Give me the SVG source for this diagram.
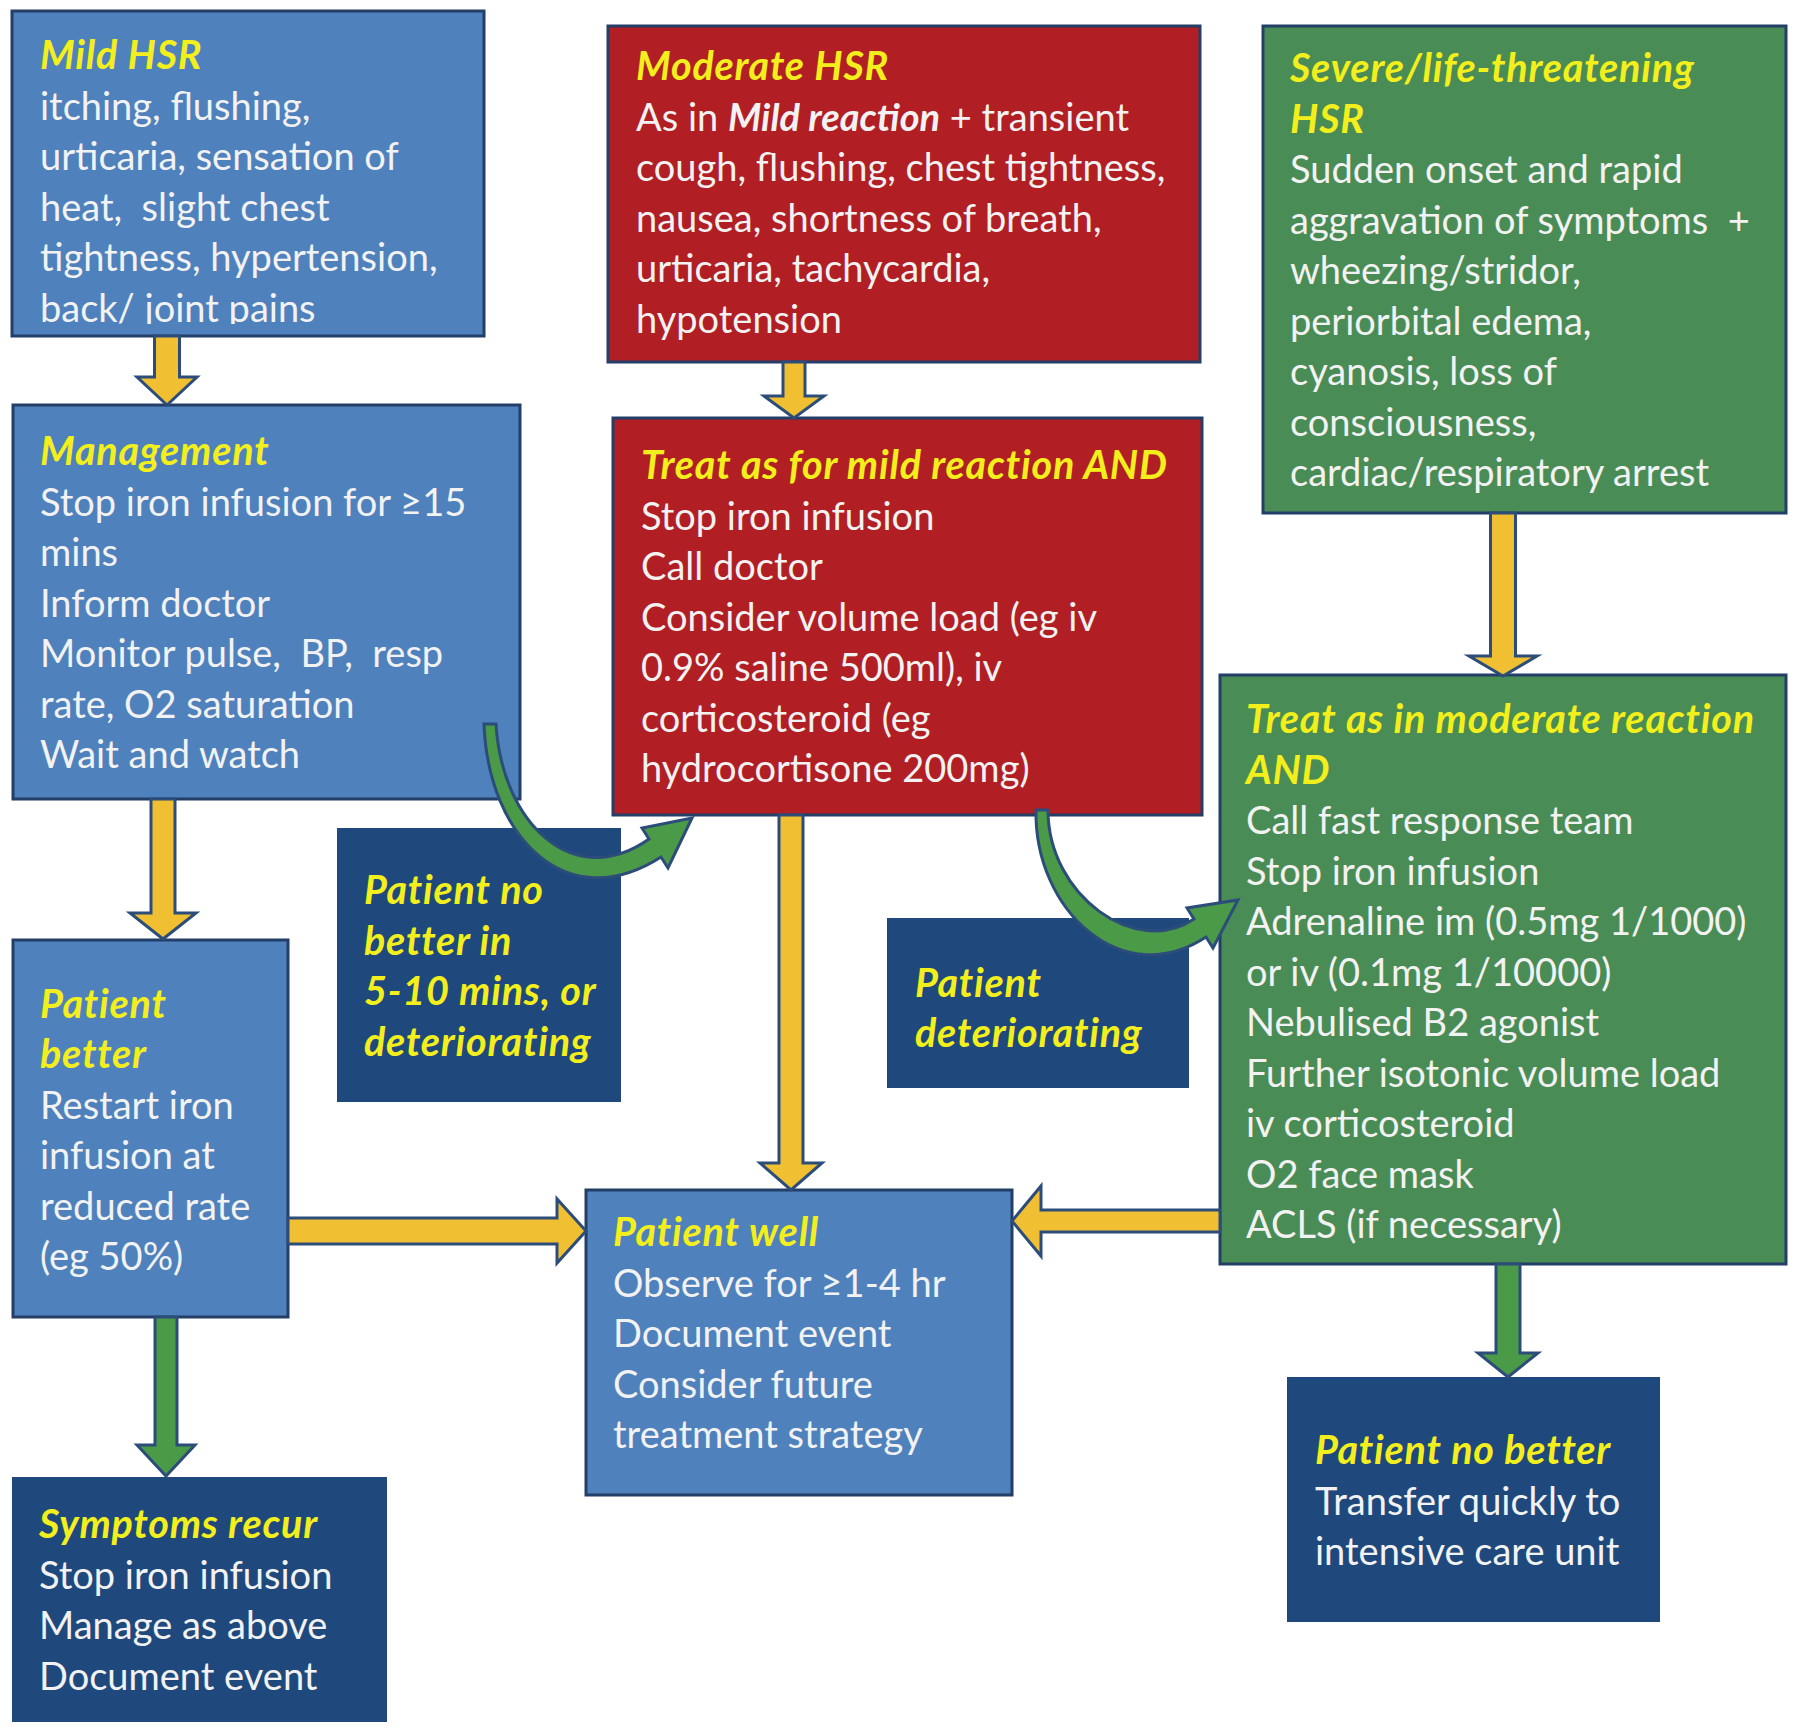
<svg xmlns="http://www.w3.org/2000/svg" width="1800" height="1734" viewBox="0 0 1800 1734">
<defs>
<style>
.bb{fill:#4F81BD;stroke:#233F68;stroke-width:3}
.br{fill:#B11E24;stroke:#233F68;stroke-width:3}
.bg{fill:#4A8C55;stroke:#233F68;stroke-width:3}
.bn{fill:#1F497D}
text{font-family:Lato,"Liberation Sans",sans-serif;font-size:38px;fill:#F2F2F2}
.h{font-weight:bold;font-style:italic;fill:#F3EF1C;font-size:39.5px;letter-spacing:0.8px}
.bi{font-weight:bold;font-style:italic}
.ay{fill:#F0C032;stroke:#2C4D7A;stroke-width:3}
.ag{fill:#4A9A48;stroke:#2C4D7A;stroke-width:3}
</style>
<clipPath id="clipMild"><rect x="12" y="11" width="472" height="313"/></clipPath>
</defs>
<rect width="1800" height="1734" fill="#FFFFFF"/>

<g id="mild-hsr">
<rect class="bb" x="12" y="11" width="472" height="325"/>
<g clip-path="url(#clipMild)">
<text x="40" y="69" class="h">Mild HSR</text>
<text x="40" y="119.5">itching, flushing,</text>
<text x="40" y="170">urticaria, sensation of</text>
<text x="40" y="220.5" xml:space="preserve">heat,  slight chest</text>
<text x="40" y="271">tightness, hypertension,</text>
<text x="40" y="321.5">back/ joint pains</text>
</g>
</g>

<g id="moderate-hsr">
<rect class="br" x="608" y="26" width="592" height="336"/>
<text x="636" y="80" class="h">Moderate HSR</text>
<text x="636" y="130.5">As in <tspan class="bi">Mild reaction</tspan> + transient</text>
<text x="636" y="181">cough, flushing, chest tightness,</text>
<text x="636" y="231.5">nausea, shortness of breath,</text>
<text x="636" y="282">urticaria, tachycardia,</text>
<text x="636" y="332.5">hypotension</text>
</g>

<g id="severe-hsr">
<rect class="bg" x="1263" y="26" width="523" height="487"/>
<text x="1290" y="82" class="h">Severe/life-threatening</text>
<text x="1290" y="132.5" class="h">HSR</text>
<text x="1290" y="183">Sudden onset and rapid</text>
<text x="1290" y="233.5" xml:space="preserve">aggravation of symptoms  +</text>
<text x="1290" y="284">wheezing/stridor,</text>
<text x="1290" y="334.5">periorbital edema,</text>
<text x="1290" y="385">cyanosis, loss of</text>
<text x="1290" y="435.5">consciousness,</text>
<text x="1290" y="486">cardiac/respiratory arrest</text>
</g>

<g id="management">
<rect class="bb" x="13" y="405" width="507" height="394"/>
<text x="40" y="465" class="h">Management</text>
<text x="40" y="515.5">Stop iron infusion for ≥15</text>
<text x="40" y="566">mins</text>
<text x="40" y="616.5">Inform doctor</text>
<text x="40" y="667" xml:space="preserve">Monitor pulse,  BP,  resp</text>
<text x="40" y="717.5">rate, O2 saturation</text>
<text x="40" y="768">Wait and watch</text>
</g>

<g id="treat-mild-and">
<rect class="br" x="613" y="418" width="589" height="397"/>
<text x="641" y="479" class="h">Treat as for mild reaction AND</text>
<text x="641" y="529.5">Stop iron infusion</text>
<text x="641" y="580">Call doctor</text>
<text x="641" y="630.5">Consider volume load (eg iv</text>
<text x="641" y="681">0.9% saline 500ml), iv</text>
<text x="641" y="731.5">corticosteroid (eg</text>
<text x="641" y="782">hydrocortisone 200mg)</text>
</g>

<g id="treat-moderate-and">
<rect class="bg" x="1220" y="675" width="566" height="589"/>
<text x="1246" y="733" class="h">Treat as in moderate reaction</text>
<text x="1246" y="783.5" class="h">AND</text>
<text x="1246" y="834">Call fast response team</text>
<text x="1246" y="884.5">Stop iron infusion</text>
<text x="1246" y="935">Adrenaline im (0.5mg 1/1000)</text>
<text x="1246" y="985.5">or iv (0.1mg 1/10000)</text>
<text x="1246" y="1036">Nebulised B2 agonist</text>
<text x="1246" y="1086.5">Further isotonic volume load</text>
<text x="1246" y="1137">iv corticosteroid</text>
<text x="1246" y="1187.5">O2 face mask</text>
<text x="1246" y="1238">ACLS (if necessary)</text>
</g>

<g id="patient-better">
<rect class="bb" x="13" y="940" width="275" height="377"/>
<text x="40" y="1017.5" class="h">Patient</text>
<text x="40" y="1068" class="h">better</text>
<text x="40" y="1118.5">Restart iron</text>
<text x="40" y="1169">infusion at</text>
<text x="40" y="1219.5">reduced rate</text>
<text x="40" y="1270">(eg 50%)</text>
</g>

<g id="no-better-5-10">
<rect class="bn" x="337" y="828" width="284" height="274"/>
<text x="364" y="904" class="h">Patient no</text>
<text x="364" y="954.5" class="h">better in</text>
<text x="364" y="1005" class="h">5-10 mins, or</text>
<text x="364" y="1055.5" class="h">deteriorating</text>
</g>

<g id="deteriorating">
<rect class="bn" x="887" y="918" width="302" height="170"/>
<text x="915" y="996.5" class="h">Patient</text>
<text x="915" y="1047" class="h">deteriorating</text>
</g>

<g id="patient-well">
<rect class="bb" x="586" y="1190" width="426" height="305"/>
<text x="613" y="1246" class="h">Patient well</text>
<text x="613" y="1296.5">Observe for ≥1-4 hr</text>
<text x="613" y="1347">Document event</text>
<text x="613" y="1397.5">Consider future</text>
<text x="613" y="1448">treatment strategy</text>
</g>

<g id="symptoms-recur">
<rect class="bn" x="12" y="1477" width="375" height="245"/>
<text x="39" y="1538" class="h">Symptoms recur</text>
<text x="39" y="1588.5">Stop iron infusion</text>
<text x="39" y="1639">Manage as above</text>
<text x="39" y="1689.5">Document event</text>
</g>

<g id="no-better-icu">
<rect class="bn" x="1287" y="1377" width="373" height="245"/>
<text x="1315" y="1464" class="h">Patient no better</text>
<text x="1315" y="1514.5">Transfer quickly to</text>
<text x="1315" y="1565">intensive care unit</text>
</g>

<g id="connectors">
<polygon class="ay" points="154.5,336 179.5,336 179.5,377 197,377 167,405 137,377 154.5,377"/>
<polygon class="ay" points="783,362 805,362 805,396 824,396 794,418 764,396 783,396"/>
<polygon class="ay" points="1490.5,513 1515.5,513 1515.5,656 1537,656 1503,676 1469,656 1490.5,656"/>
<polygon class="ay" points="151,799 175,799 175,913 196,913 163,939 130,913 151,913"/>
<polygon class="ay" points="779,815 803,815 803,1163 822,1163 791,1190 760,1163 779,1163"/>
<polygon class="ay" points="288,1218 557,1218 557,1199 586,1231 557,1263 557,1244 288,1244"/>
<polygon class="ay" points="1220,1210 1041,1210 1041,1186 1012,1221 1041,1256 1041,1232 1220,1232"/>
<polygon class="ag" points="155,1317 177,1317 177,1445 195,1445 166,1476 137,1445 155,1445"/>
<polygon class="ag" points="1496,1264 1520,1264 1520,1353 1538,1353 1508,1377 1478,1353 1496,1353"/>
<path class="ag" d="M 484 724 C 488 836, 566 918, 661 857 L 668 868 L 692 818 L 642 828 L 649 839 C 574 892, 502 824, 496 724 Z"/>
<path class="ag" d="M 1036 810 C 1034 910, 1122 992, 1206 937 L 1213 948 L 1238 900 L 1187 908 L 1194 919 C 1136 958, 1048 896, 1048 810 Z"/>
</g>
</svg>
